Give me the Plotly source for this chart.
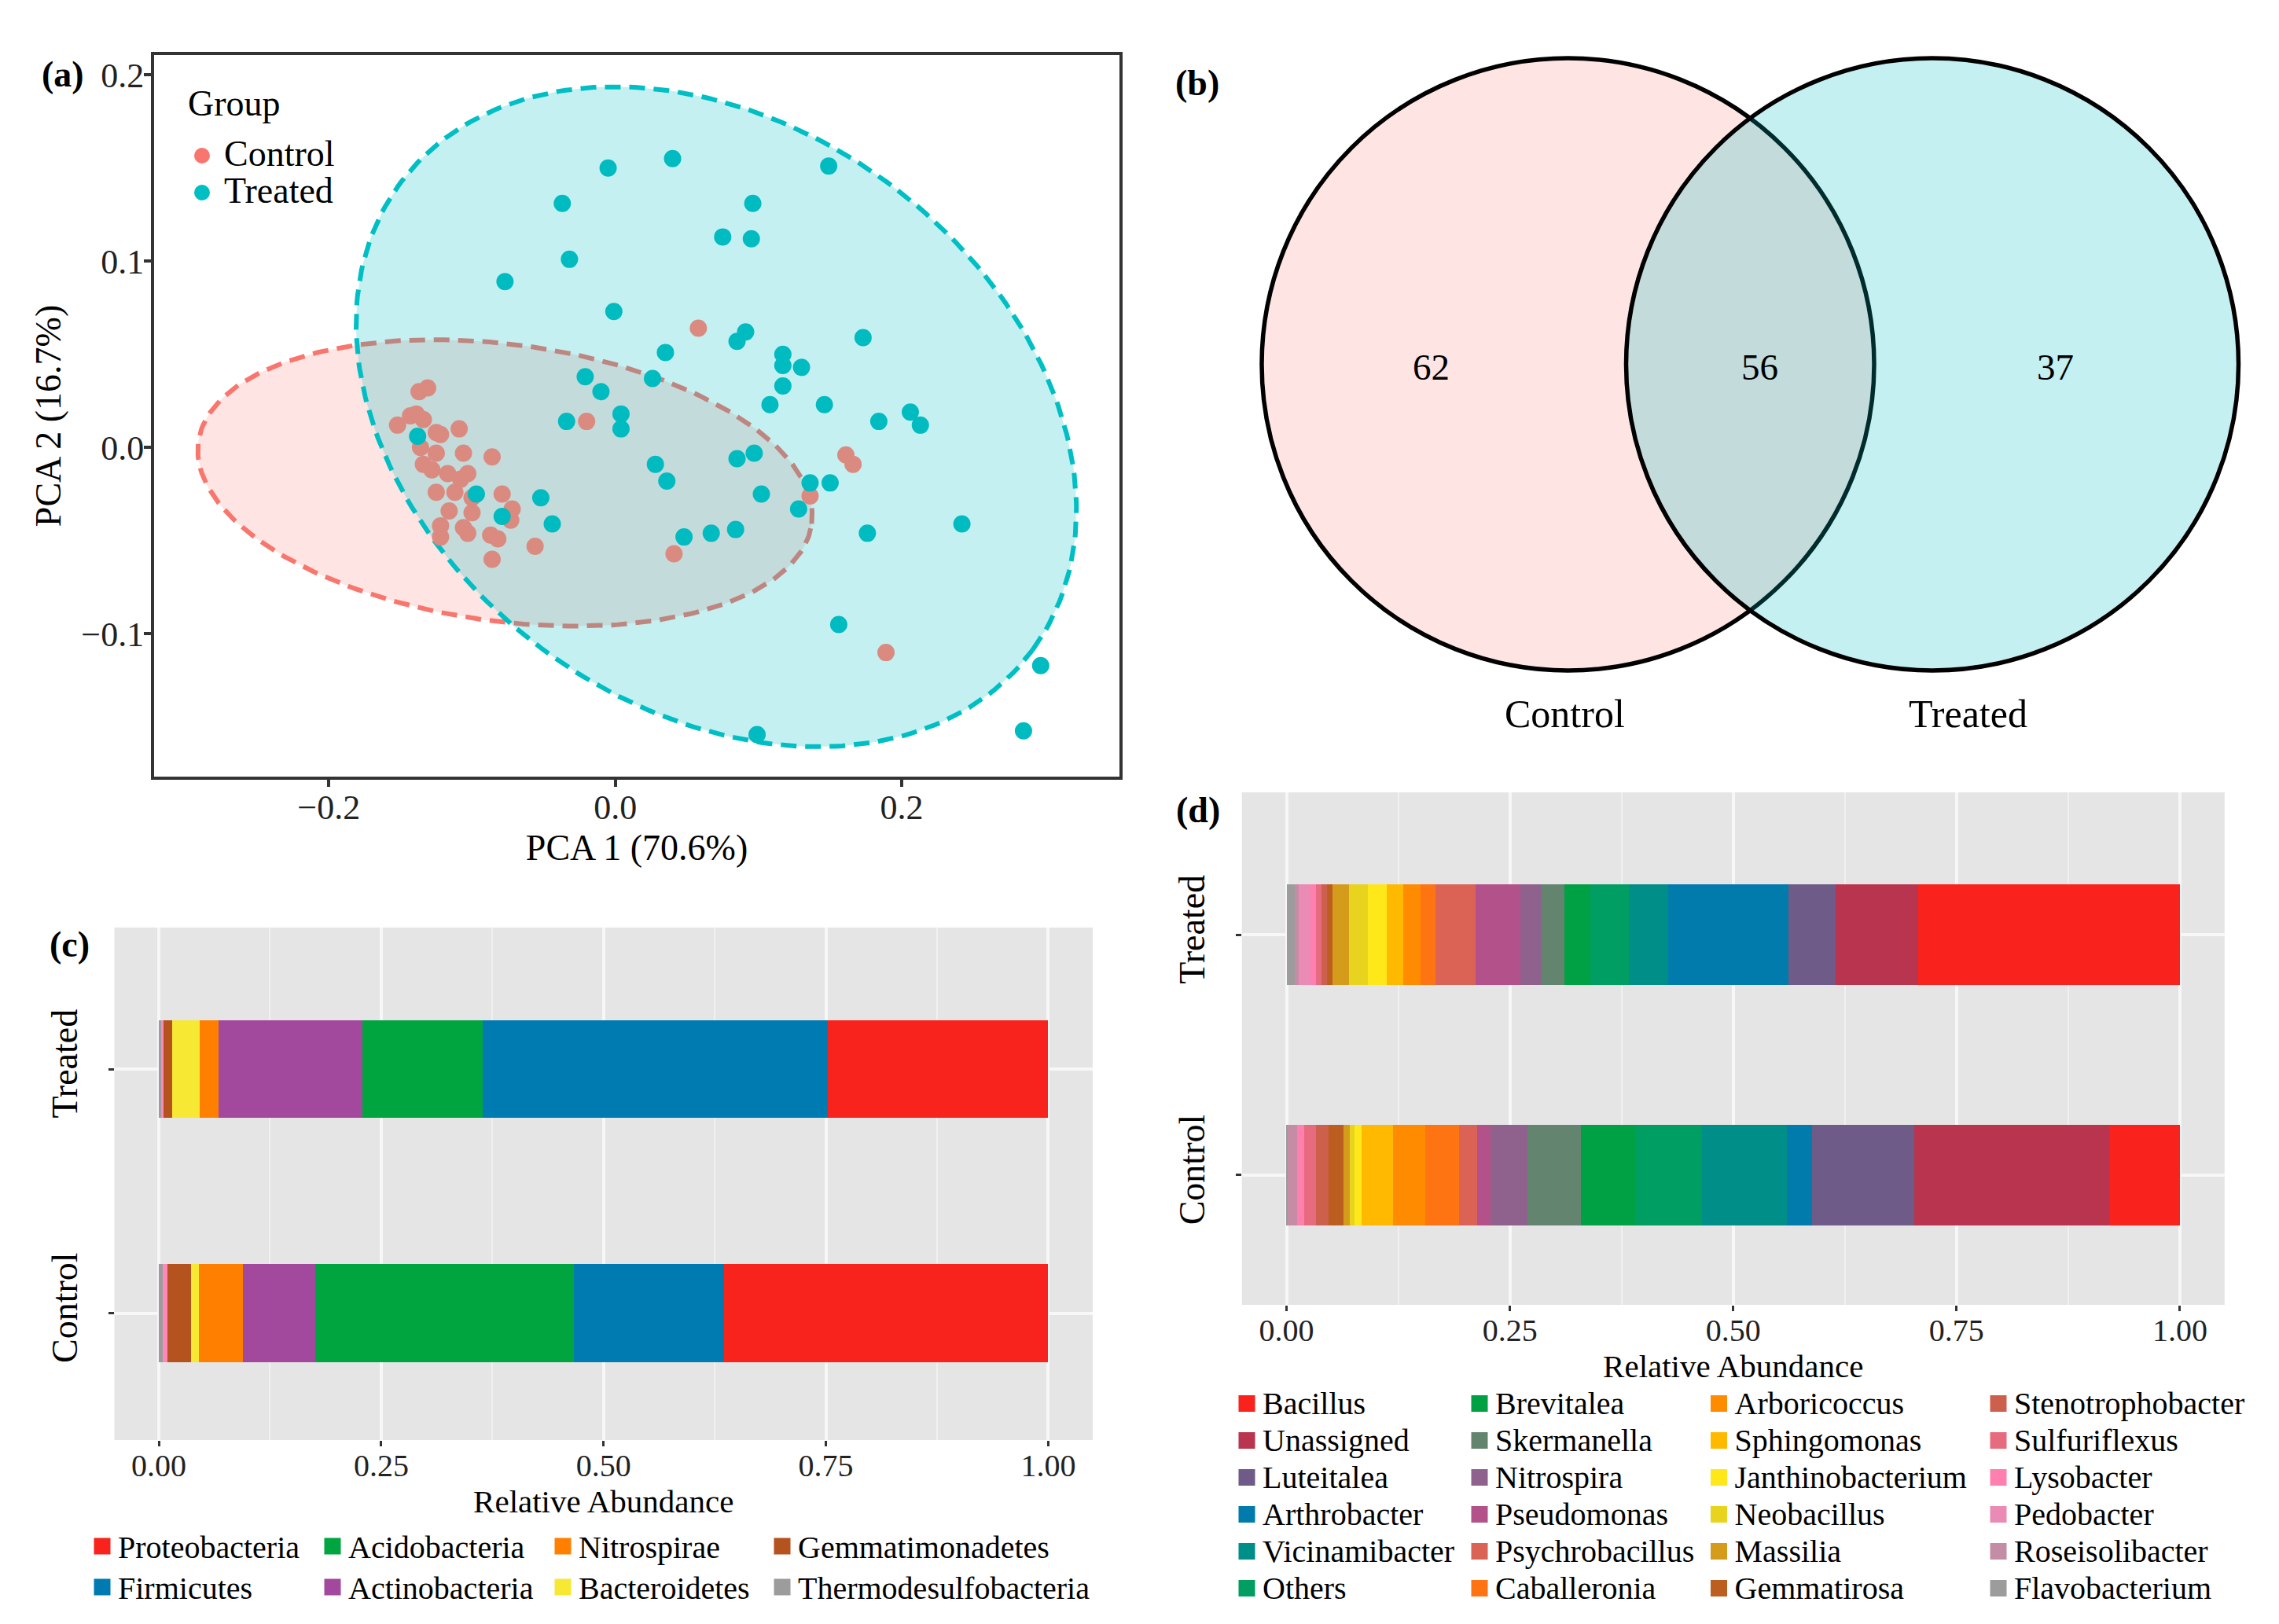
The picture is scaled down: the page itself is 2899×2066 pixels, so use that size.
import numpy as np
import plotly.graph_objects as go

W, H = 2899, 2066
FONT = "Liberation Serif"


def px_x(p):
    return p / W


def px_y(p):
    return 1 - p / H


def span(label, size):
    return f'<span style="font-size:{size}px">{label}</span>'


# ---------------- (a) PCA scores ----------------
ctrl_pc1 = [-0.131, -0.137, 0.058, -0.152, -0.143, -0.139, -0.134, -0.125, -0.122, -0.109,
            -0.136, -0.125, -0.106, -0.086, -0.134, -0.128, -0.117, -0.103, -0.108, -0.125,
            -0.112, -0.079, -0.100, -0.072, -0.116, -0.100, -0.073, -0.122, -0.106, -0.103,
            -0.122, -0.087, -0.082, -0.086, -0.056, -0.020, 0.041, 0.136, 0.161, 0.166, 0.189]
ctrl_pc2 = [0.032, 0.030, 0.064, 0.012, 0.017, 0.018, 0.015, 0.008, 0.007, 0.010,
            0.000, -0.003, -0.003, -0.005, -0.009, -0.012, -0.014, -0.014, -0.017, -0.024,
            -0.024, -0.025, -0.027, -0.033, -0.034, -0.035, -0.039, -0.042, -0.043, -0.046,
            -0.048, -0.047, -0.049, -0.060, -0.053, 0.014, -0.057, -0.026, -0.004, -0.009, -0.110]
trt_pc1 = [-0.005, 0.040, 0.149, -0.037, 0.096, 0.075, 0.095, -0.032, -0.077, -0.001,
           0.091, 0.085, 0.173, 0.035, 0.117, 0.117, 0.130, -0.021, 0.026, -0.010,
           0.117, 0.108, 0.146, 0.004, 0.004, -0.034, 0.206, 0.184, 0.213, -0.138,
           0.097, 0.085, 0.028, 0.036, 0.136, 0.150, 0.102, -0.097, -0.052, 0.128,
           -0.079, -0.044, 0.242, 0.048, 0.067, 0.084, 0.176, 0.156, 0.297, 0.099, 0.285]
trt_pc2 = [0.150, 0.155, 0.151, 0.131, 0.131, 0.113, 0.112, 0.101, 0.089, 0.073,
           0.062, 0.057, 0.059, 0.051, 0.050, 0.044, 0.043, 0.038, 0.037, 0.030,
           0.033, 0.023, 0.023, 0.018, 0.010, 0.014, 0.019, 0.014, 0.012, 0.006,
           -0.003, -0.006, -0.009, -0.018, -0.019, -0.019, -0.025, -0.025, -0.027, -0.033,
           -0.037, -0.041, -0.041, -0.048, -0.046, -0.044, -0.046, -0.095, -0.117, -0.154, -0.152]
groups = ["Control", "Treated"]
group_colors = ["#F8766D", "#00BFC4"]
point_colors = ["#DB8A80", "#00BBC0"]        # as they appear under the ellipse fills
# confidence ellipses: centre, semi-axes (x units), angle (deg)
ctrl_ellipse = (-0.077, -0.019, 0.216, 0.0967, -7.6)
trt_ellipse = (0.0705, 0.0165, 0.2744, 0.2026, -36.4)
pc1_label = "PCA 1 (70.6%)"
pc2_label = "PCA 2 (16.7%)"

# ---------------- (b) Venn ----------------
venn_sets = ["Control", "Treated"]
venn_counts = [62, 56, 37]   # Control only, shared, Treated only

# ---------------- (c) phylum ----------------
phylum_names = ["Proteobacteria", "Firmicutes", "Acidobacteria", "Actinobacteria",
                "Nitrospirae", "Bacteroidetes", "Gemmatimonadetes", "Thermodesulfobacteria", "Others"]
phylum_treated = [0.2475, 0.3882, 0.1357, 0.1614, 0.0212, 0.0313, 0.0094, 0.0024, 0.0029]
phylum_control = [0.3643, 0.1687, 0.2910, 0.0814, 0.0492, 0.0092, 0.0265, 0.0044, 0.0053]
phylum_colors = ["#F8231C", "#007BB2", "#00A53F", "#A3499D", "#FF8000", "#F7E834",
                 "#B5531E", "#9C9C9C", "#FF88BB"]
phylum_stack = [7, 8, 6, 5, 4, 3, 2, 1, 0]   # drawn from 0 outward

# ---------------- (d) genus ----------------
genus_names = ["Bacillus", "Unassigned", "Luteitalea", "Arthrobacter", "Vicinamibacter", "Others",
               "Brevitalea", "Skermanella", "Nitrospira", "Pseudomonas", "Psychrobacillus", "Caballeronia",
               "Arboricoccus", "Sphingomonas", "Janthinobacterium", "Neobacillus", "Massilia", "Gemmatirosa",
               "Stenotrophobacter", "Sulfuriflexus", "Lysobacter", "Pedobacter", "Roseisolibacter",
               "Flavobacterium"]
genus_treated = [0.293, 0.092, 0.053, 0.135, 0.0439, 0.0433, 0.0286, 0.0253, 0.0241, 0.0502, 0.0446, 0.0167,
                 0.0197, 0.0185, 0.0208, 0.0211, 0.0185, 0.0065, 0.0059, 0.0064, 0.0065, 0.0132, 0.0044, 0.0088]
genus_control = [0.079, 0.218, 0.115, 0.028, 0.095, 0.0746, 0.0607, 0.0601, 0.0415, 0.0147, 0.0206, 0.0378,
                 0.0361, 0.0352, 0.0074, 0.0053, 0.0070, 0.0167, 0.0141, 0.0132, 0.0083, 0.0, 0.0107, 0.0010]
genus_colors = ["#F9221C", "#B9344F", "#6E5B87", "#007BAC", "#008E88", "#009E62",
                "#00A045", "#638570", "#8E628C", "#B3528A", "#DB6356", "#FF7412",
                "#FF8C00", "#FFBA00", "#FFE81A", "#E8D41E", "#D59C1C", "#BC5E1F",
                "#CD604C", "#E66B7E", "#FF80B0", "#E98BB5", "#C48CA5", "#9C9C9C"]
samples = ["Control", "Treated"]
abund_label = "Relative Abundance"

# ---------------- geometry (pixels) ----------------
A_X = (188, 1416); A_Y = (62, 980)
A_XR = [-0.322, 0.352]; A_YR = [-0.1766, 0.2106]
C_X = (137.5, 1382); C_Y = (1172, 1824)
D_X = (1571.7, 2821.8); D_Y = (1000, 1652)

fig = go.Figure()

# ---- (a) ----
ratio = ((A_Y[1] - A_Y[0]) / (A_YR[1] - A_YR[0])) / ((A_X[1] - A_X[0]) / (A_XR[1] - A_XR[0]))


def ellipse_xy(p, n=300):
    cx, cy, a, b, ang = p
    t = np.linspace(0, 2 * np.pi, n)
    th = np.radians(ang)
    x = cx + a * np.cos(th) * np.cos(t) - b * np.sin(th) * np.sin(t)
    yp = a * np.sin(th) * np.cos(t) + b * np.cos(th) * np.sin(t)
    return x, cy + yp / ratio


for p, col, fc in [(ctrl_ellipse, group_colors[0], "rgba(248,118,109,0.20)"),
                   (trt_ellipse, group_colors[1], "rgba(0,191,196,0.23)")]:
    ex, ey = ellipse_xy(p)
    fig.add_trace(go.Scatter(x=ex, y=ey, mode="lines", fill="toself", fillcolor=fc,
                             line=dict(color=col, width=6, dash="20px,11px"),
                             showlegend=False, hoverinfo="skip", xaxis="x", yaxis="y"))

for g, xs, ys, col in [(groups[0], ctrl_pc1, ctrl_pc2, point_colors[0]),
                       (groups[1], trt_pc1, trt_pc2, point_colors[1])]:
    fig.add_trace(go.Scatter(x=xs, y=ys, mode="markers", name=g, legendgroup="a" + g,
                             showlegend=False,
                             marker=dict(color=col, size=18, line=dict(color=col, width=4)),
                             xaxis="x", yaxis="y", hoverinfo="x+y"))
for g, col in zip(groups, group_colors):
    fig.add_trace(go.Scatter(x=[None], y=[None], mode="markers", name=span(g, 46),
                             legendgroup="a" + g, legend="legend",
                             marker=dict(color=col, size=16, line=dict(color=col, width=4)),
                             xaxis="x", yaxis="y", hoverinfo="skip"))

# ---- (c) ----
for i in phylum_stack:
    fig.add_trace(go.Bar(y=["Treated", "Control"], x=[phylum_treated[i], phylum_control[i]],
                         orientation="h", width=0.4, name=phylum_names[i],
                         legendgroup="c" + phylum_names[i], showlegend=False,
                         marker=dict(color=phylum_colors[i], line=dict(width=0)),
                         xaxis="x2", yaxis="y2"))
for k in range(8):
    fig.add_trace(go.Scatter(x=[None], y=[None], mode="markers", name=span(phylum_names[k], 40),
                             legendgroup="c" + phylum_names[k], legend=f"legend{2 + k // 2}",
                             marker=dict(symbol="square", size=16, color=phylum_colors[k],
                                         line=dict(color=phylum_colors[k], width=5)),
                             xaxis="x2", yaxis="y2", hoverinfo="skip"))

# ---- (d) ----
for i in range(len(genus_names) - 1, -1, -1):
    fig.add_trace(go.Bar(y=["Treated", "Control"], x=[genus_treated[i], genus_control[i]],
                         orientation="h", width=0.42, name=genus_names[i],
                         legendgroup="d" + genus_names[i], showlegend=False,
                         marker=dict(color=genus_colors[i], line=dict(width=0)),
                         xaxis="x3", yaxis="y3"))
for k in range(len(genus_names)):
    fig.add_trace(go.Scatter(x=[None], y=[None], mode="markers", name=span(genus_names[k], 40),
                             legendgroup="d" + genus_names[k], legend=f"legend{6 + k // 6}",
                             marker=dict(symbol="square", size=16, color=genus_colors[k],
                                         line=dict(color=genus_colors[k], width=5)),
                             xaxis="x3", yaxis="y3", hoverinfo="skip"))

# ---------------- layout ----------------
tickfont = dict(family=FONT, size=44, color="#222222")
layout = dict(
    width=W, height=H, barmode="stack",
    margin=dict(l=0, r=0, t=0, b=0, autoexpand=False),
    paper_bgcolor="white", plot_bgcolor="rgba(0,0,0,0)",
    font=dict(family=FONT, color="black"),
    xaxis=dict(domain=[px_x(A_X[0]), px_x(A_X[1])], range=A_XR, anchor="y",
               showline=True, mirror=True, linecolor="#333333", linewidth=4,
               ticks="outside", ticklen=9, tickwidth=4, tickcolor="#333333",
               tickvals=[-0.2, 0.0, 0.2], tickformat=".1f", tickfont=tickfont,
               ticklabelstandoff=-12,
               showgrid=False, zeroline=False, automargin=False,
               title=dict(text=pc1_label, font=dict(family=FONT, size=46), standoff=12)),
    yaxis=dict(domain=[px_y(A_Y[1]), px_y(A_Y[0])], range=A_YR, anchor="x",
               showline=True, mirror=True, linecolor="#333333", linewidth=4,
               ticks="outside", ticklen=9, tickwidth=4, tickcolor="#333333",
               tickvals=[-0.1, 0.0, 0.1, 0.2], tickformat=".1f", tickfont=tickfont,
               ticklabelstandoff=-9,
               showgrid=False, zeroline=False, automargin=False,
               title=dict(text=pc2_label, font=dict(family=FONT, size=46), standoff=12)),
)

for ax, (xd, yd), yr in [("2", (C_X, C_Y), [-0.52, 1.58]), ("3", (D_X, D_Y), [-0.54, 1.593])]:
    layout["xaxis" + ax] = dict(
        domain=[px_x(xd[0]), px_x(xd[1])], range=[-0.05, 1.05], anchor="y" + ax,
        showline=False, zeroline=False, automargin=False,
        ticks="outside", ticklen=7, tickwidth=3, tickcolor="#333333",
        tickvals=[0, 0.25, 0.5, 0.75, 1.0], tickformat=".2f",
        tickfont=dict(family=FONT, size=40, color="#222222"), ticklabelstandoff=-10,
        showgrid=True, gridcolor="#f7f7f7", gridwidth=4,
        minor=dict(dtick=0.125, showgrid=True, gridcolor="#f0f0f0", gridwidth=2),
        title=dict(text=abund_label, font=dict(family=FONT, size=41), standoff=8))
    layout["yaxis" + ax] = dict(
        domain=[px_y(yd[1]), px_y(yd[0])], range=yr, anchor="x" + ax,
        type="category", categoryorder="array", categoryarray=samples,
        showline=False, zeroline=False, automargin=False,
        ticks="outside", ticklen=7, tickwidth=3, tickcolor="#333333",
        tickangle=-90, tickfont=dict(family=FONT, size=46, color="black"),
        ticklabelstandoff=21,
        showgrid=True, gridcolor="#f7f7f7", gridwidth=4)

# legends
layout["legend"] = dict(x=px_x(221), y=px_y(161.5), xanchor="left", yanchor="top",
                        font=dict(family=FONT, size=33.85, color="black"), itemwidth=46,
                        bgcolor="rgba(0,0,0,0)", traceorder="normal", tracegroupgap=0)
c_leg_x = [102, 395, 688, 967]
for c in range(4):
    layout[f"legend{2 + c}"] = dict(x=px_x(c_leg_x[c]), y=px_y(1928), xanchor="left", yanchor="top",
                                    font=dict(family=FONT, size=37.7, color="black"), itemwidth=30,
                                    bgcolor="rgba(0,0,0,0)", traceorder="normal", tracegroupgap=0)
d_leg_x = [1558, 1854, 2158.5, 2514]
for c in range(4):
    layout[f"legend{6 + c}"] = dict(x=px_x(d_leg_x[c]), y=px_y(1749), xanchor="left", yanchor="top",
                                    font=dict(family=FONT, size=33.85, color="black"), itemwidth=30,
                                    bgcolor="rgba(0,0,0,0)", traceorder="normal", tracegroupgap=0)

# shapes: grey panels + venn circles
shapes = []
for ax in ["2", "3"]:
    shapes.append(dict(type="rect", xref=f"x{ax} domain", yref=f"y{ax} domain", x0=0, x1=1, y0=0, y1=1,
                       fillcolor="#e5e5e5", line=dict(width=0), layer="below"))
venn_r = 389.5
venn_cx = [1986.5, 2450]
venn_cy = 455.5
venn_fill = ["rgba(248,118,109,0.20)", "rgba(0,191,196,0.23)"]
for cx, fc in zip(venn_cx, venn_fill):
    shapes.append(dict(type="circle", xref="paper", yref="paper",
                       x0=px_x(cx - venn_r), x1=px_x(cx + venn_r),
                       y0=px_y(venn_cy + venn_r), y1=px_y(venn_cy - venn_r),
                       fillcolor=fc, line=dict(color="black", width=5.5), layer="above"))
layout["shapes"] = shapes

ann = []
for lab, x, y in [("(a)", 72, 87), ("(b)", 1515, 97), ("(c)", 80, 1193), ("(d)", 1516, 1022)]:
    ann.append(dict(text=f"<b>{lab}</b>", x=px_x(x), y=px_y(y), xref="paper", yref="paper",
                    showarrow=False, xanchor="center", yanchor="middle",
                    font=dict(family=FONT, size=46, color="black")))
ann.append(dict(text="Group", x=px_x(229), y=px_y(123), xref="paper", yref="paper", showarrow=False,
                xanchor="left", yanchor="middle", font=dict(family=FONT, size=46, color="black")))
venn_num_x = [1812, 2230, 2606]
for n, x in zip(venn_counts, venn_num_x):
    ann.append(dict(text=str(n), x=px_x(x), y=px_y(459), xref="paper", yref="paper", showarrow=False,
                    xanchor="center", yanchor="middle", font=dict(family=FONT, size=47, color="black")))
for s, x in zip(venn_sets, [1982, 2495]):
    ann.append(dict(text=s, x=px_x(x), y=px_y(900), xref="paper", yref="paper", showarrow=False,
                    xanchor="center", yanchor="middle", font=dict(family=FONT, size=50, color="black")))
layout["annotations"] = ann

fig.update_layout(**layout)
fig.write_html("out.html")
